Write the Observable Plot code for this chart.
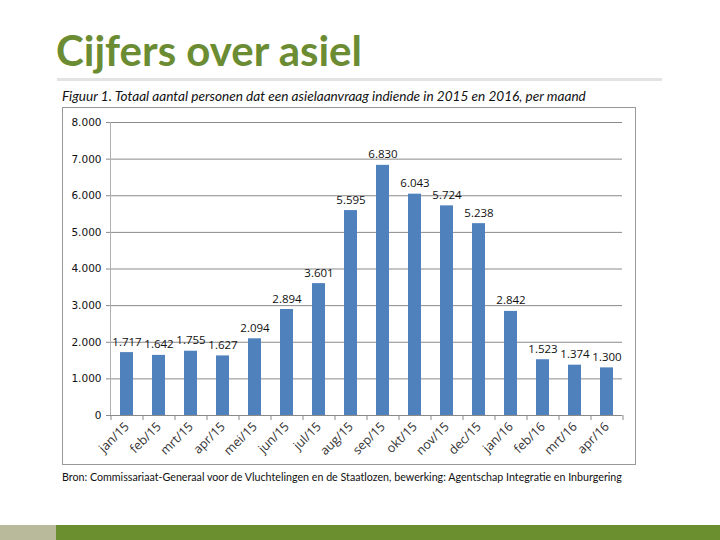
<!DOCTYPE html>
<html>
<head>
<meta charset="utf-8">
<script src="https://cdn.jsdelivr.net/npm/d3@7"></script>
<script src="https://cdn.jsdelivr.net/npm/@observablehq/plot@0.6"></script>
<style>
  html, body { margin: 0; padding: 0; background: #fff; width: 720px; height: 540px; overflow: hidden; position: relative; }
  #title { position: absolute; left: 56px; top: 29px; font-family: Lato, sans-serif; font-weight: 700; font-size: 42px; line-height: 1; color: #6b8c32; white-space: nowrap; }
  #rule { position: absolute; left: 57px; top: 78px; width: 605px; height: 3px; background: #e3e3e3; }
  #caption { position: absolute; left: 62px; top: 90px; font-family: Lato, sans-serif; font-style: italic; font-size: 13.6px; line-height: 1; color: #111; white-space: nowrap; }
  #chart { position: absolute; left: 62px; top: 107px; width: 572px; height: 356px; border: 1px solid #999; }
  #source { position: absolute; left: 62px; top: 472px; font-family: Lato, sans-serif; font-size: 10.7px; line-height: 1; color: #111; white-space: nowrap; }
  #barGray { position: absolute; left: 0; top: 525px; width: 56px; height: 15px; background: #b9b99b; }
  #barGreen { position: absolute; left: 56px; top: 525px; width: 664px; height: 15px; background: #6b8e2f; }
</style>
</head>
<body>
<div id="title">Cijfers over asiel</div>
<div id="rule"></div>
<div id="caption">Figuur 1. Totaal aantal personen dat een asielaanvraag indiende in 2015 en 2016, per maand</div>
<div id="chart"></div>
<div id="source">Bron: Commissariaat-Generaal voor de Vluchtelingen en de Staatlozen, bewerking: Agentschap Integratie en Inburgering</div>
<div id="barGray"></div>
<div id="barGreen"></div>
<script>
const months = ["jan/15","feb/15","mrt/15","apr/15","mei/15","jun/15","jul/15","aug/15","sep/15","okt/15","nov/15","dec/15","jan/16","feb/16","mrt/16","apr/16"];
const values = [1717,1642,1755,1627,2094,2894,3601,5595,6830,6043,5724,5238,2842,1523,1374,1300];
const yTicks = [0,1000,2000,3000,4000,5000,6000,7000,8000];

const data = months.map((m, i) => ({month: m, value: values[i]}));
const fmt = d => d3.format(",")(d).replace(/,/g, ".");

const W = 572, H = 356;
const mL = 47, mR = 13, mT = 14, mB = 49;
const step = (W - mL - mR) / months.length;

const chart = Plot.plot({
  width: W,
  height: H,
  marginLeft: mL,
  marginRight: mR,
  marginTop: mT,
  marginBottom: mB,
  style: {fontFamily: "'Open Sans', sans-serif", fontSize: "11px", color: "#222", background: "#fff"},
  x: {domain: months, paddingInner: 0.6, paddingOuter: 0.3, label: null},
  y: {domain: [0, 8000], label: null},
  marks: [
    Plot.gridY(yTicks, {stroke: "#8a8a8a", strokeOpacity: 1}),
    Plot.axisY(yTicks, {tickFormat: fmt, tickSize: 4, tickPadding: 5, stroke: "#8a8a8a", label: null, fontFamily: "'DejaVu Sans', sans-serif", fontSize: 10.5, fill: "#111"}),
    Plot.frame({anchor: "left", stroke: "#b0b0b0"}),
    Plot.barY(data, {x: "month", y: "value", fill: "#4f81bd"}),
    Plot.ruleY([0], {stroke: "#8a8a8a"}),
    Plot.ruleX(months, {x: d => d, dx: -step / 2, y1: 0, y2: 0, insetBottom: -5, stroke: "#8a8a8a"}),
    Plot.ruleX([months[months.length - 1]], {x: d => d, dx: step / 2, y1: 0, y2: 0, insetBottom: -5, stroke: "#8a8a8a"}),
    Plot.axisX({tickSize: 0, tickRotate: -45, tickPadding: 9, label: null, fontSize: 12.5, fill: "#333"}),
    Plot.text(data, {x: "month", y: "value", text: d => fmt(d.value), dy: -7, lineAnchor: "bottom", fontSize: 11.5, fill: "#111"})
  ]
});
document.getElementById("chart").appendChild(chart);
</script>
</body>
</html>
